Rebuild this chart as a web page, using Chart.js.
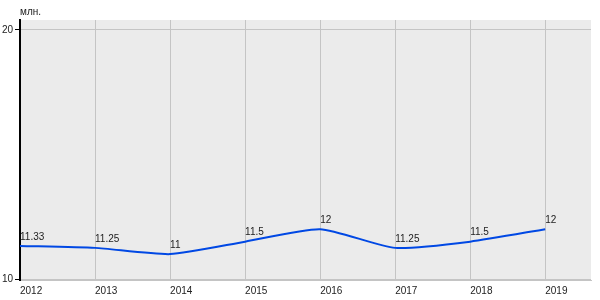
<!DOCTYPE html>
<html>
<head>
<meta charset="utf-8">
<script src="https://cdn.jsdelivr.net/npm/chart.js@4"></script>
<style>
  html, body { margin: 0; padding: 0; background: #fff; }
  #wrap { width: 600px; height: 300px; position: relative; }
</style>
</head>
<body>
<div id="wrap"><canvas id="chart" width="600" height="300"></canvas></div>
<script>
// values
const years = [2012, 2013, 2014, 2015, 2016, 2017, 2018, 2019];
const values = [11.33, 11.25, 11, 11.5, 12, 11.25, 11.5, 12];
const valueLabels = ['11.33', '11.25', '11', '11.5', '12', '11.25', '11.5', '12'];
const yTicks = [10, 20];
const unitLabel = 'млн.';

const FONT = 'Liberation Sans, Arial, sans-serif';

// gray plot background + unit caption + point labels
const decor = {
  id: 'decor',
  beforeDraw(chart) {
    const { ctx, chartArea: a } = chart;
    ctx.save();
    ctx.fillStyle = '#ebebeb';
    ctx.fillRect(a.left, a.top, a.right - a.left, a.bottom - a.top);
    ctx.restore();
  },
  afterDatasetsDraw(chart) {
    const { ctx, chartArea: a } = chart;
    ctx.save();
    ctx.font = '10px ' + FONT;
    ctx.fillStyle = '#222';
    ctx.textAlign = 'left';
    ctx.textBaseline = 'bottom';
    ctx.fillText(unitLabel, a.left, a.top - 3);
    chart.getDatasetMeta(0).data.forEach((pt, i) => {
      ctx.fillText(valueLabels[i], pt.x, pt.y - 4);
    });
    ctx.restore();
  }
};

new Chart(document.getElementById('chart'), {
  type: 'line',
  data: {
    datasets: [{
      data: years.map((y, i) => ({ x: y, y: values[i] })),
      borderColor: '#0048e4',
      borderWidth: 2,
      pointRadius: 0,
      tension: 0.2,
      fill: false
    }]
  },
  options: {
    responsive: false,
    animation: false,
    layout: { padding: { top: 20, right: 9, left: 0, bottom: 0 } },
    plugins: { legend: { display: false }, tooltip: { enabled: false } },
    scales: {
      x: {
        type: 'linear',
        min: 2012,
        max: 2019.61,
        afterBuildTicks: s => { s.ticks = years.map(v => ({ value: v })); },
        afterFit: s => { s.height = 20; },
        grid: { color: '#c4c4c4', drawTicks: false },
        border: { color: '#c4c4c4', width: 1 },
        ticks: {
          align: 'start',
          padding: 5,
          color: '#222',
          font: { family: FONT, size: 10 },
          callback: v => String(v)
        }
      },
      y: {
        min: 9.96,
        max: 20.4,
        afterBuildTicks: s => { s.ticks = yTicks.map(v => ({ value: v })); },
        afterFit: s => { s.width = 20; },
        grid: { color: '#c4c4c4', tickColor: '#000', tickLength: 5 },
        border: { color: '#000', width: 2 },
        ticks: {
          padding: 2,
          color: '#222',
          font: { family: FONT, size: 10 },
          callback: v => String(v)
        }
      }
    }
  },
  plugins: [decor]
});
</script>
</body>
</html>
